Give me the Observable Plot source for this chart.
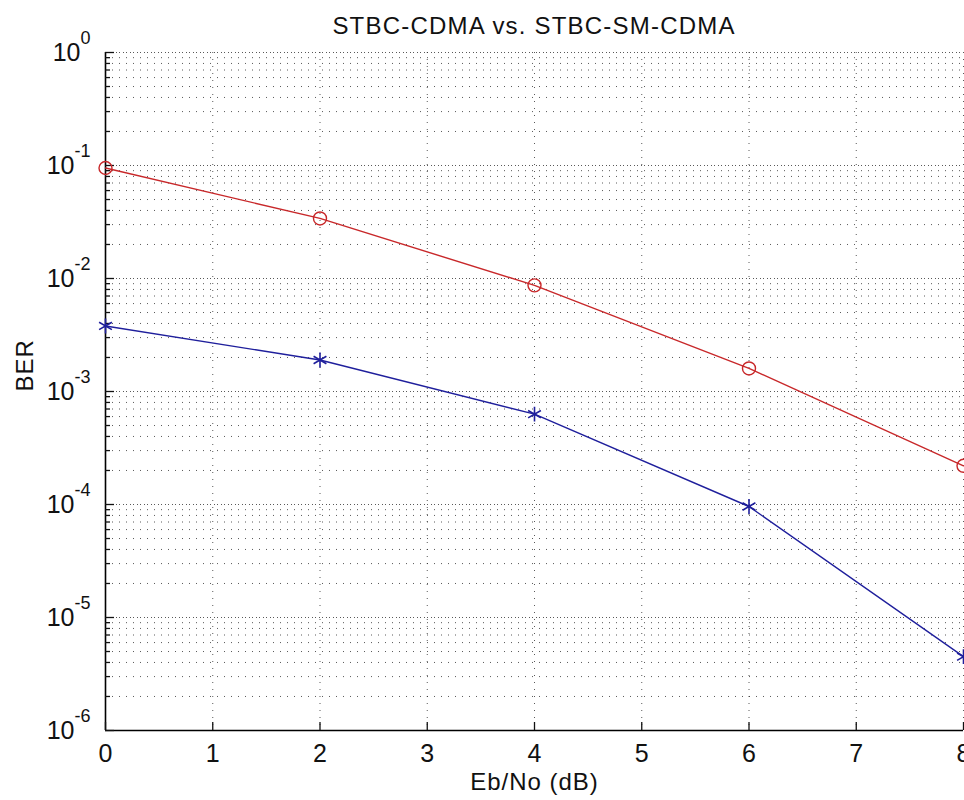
<!DOCTYPE html>
<html><head><meta charset="utf-8">
<script src="https://cdn.jsdelivr.net/npm/d3@7"></script>
<script src="https://cdn.jsdelivr.net/npm/@observablehq/plot@0.6"></script>
<style>
body{margin:0;background:#fff;font-family:"Liberation Sans",Arial,sans-serif;}
#wrap{position:relative;width:964px;height:800px;overflow:hidden;background:#fff}
#title{position:absolute;left:105px;width:858px;top:13px;text-align:center;font-size:24px;letter-spacing:1.2px;color:#111;line-height:26px}
#chart{position:absolute;top:42px;left:0}
#chart svg{overflow:visible}
</style></head><body>
<div id="wrap"><div id="title">STBC-CDMA vs. STBC-SM-CDMA</div><div id="chart"></div></div>
<script>
// Data
const ebNo = [0, 2, 4, 6, 8];
const berStbcCdma = [0.095, 0.034, 0.0087, 0.0016, 0.00022];
const berStbcSmCdma = [0.0038, 0.0019, 0.00063, 0.000096, 0.0000045];
const xTicks = [0, 1, 2, 3, 4, 5, 6, 7, 8];
const yExponents = [-6, -5, -4, -3, -2, -1, 0];
const minorMultipliers = [2, 3, 4, 5, 6, 7, 8, 9];

const yMajor = yExponents.map(e => Math.pow(10, e));
const yMinor = yExponents.slice(0, -1).flatMap(e => minorMultipliers.map(m => m * Math.pow(10, e)));
const red = ebNo.map((x, i) => ({x, y: berStbcCdma[i]}));
const blue = ebNo.map((x, i) => ({x, y: berStbcSmCdma[i]}));

const gridStyle = {stroke: "#222", strokeOpacity: 0.75, strokeDasharray: "1,6", strokeWidth: 1};

const chart = Plot.plot({
  width: 964, height: 758,
  marginLeft: 105, marginRight: 1, marginTop: 10, marginBottom: 70,
  style: {fontFamily: "'Liberation Sans', Arial, sans-serif", fontSize: "25px", color: "#111", background: "transparent", overflow: "visible"},
  x: {domain: [0, 8], label: null},
  y: {type: "log", domain: [1e-6, 1], label: null},
  marks: [
    Plot.gridY(yMinor, gridStyle),
    Plot.gridY(yMajor, {...gridStyle, strokeDashoffset: 3}),
    Plot.gridY(yMajor, gridStyle),
    Plot.gridX(xTicks, gridStyle),
    Plot.ruleX([0], {stroke: "#000", strokeWidth: 1.6}),
    Plot.ruleY([1e-6], {stroke: "#000", strokeWidth: 1.6}),
    Plot.axisX(xTicks, {tickSize: -8, tickPadding: 22, tickFormat: d => String(d), label: null, strokeWidth: 1.3}),
    Plot.axisY(yMinor, {tickSize: -5, tickFormat: () => "", label: null, strokeWidth: 1.3}),
    Plot.axisY(yMajor, {tickSize: -9, tickPadding: 24, tickFormat: d => "10^" + Math.round(Math.log10(d)), label: null, strokeWidth: 1.3}),
    Plot.line(red, {x: "x", y: "y", stroke: "#c8282a", strokeWidth: 1.4}),
    Plot.dot(red, {x: "x", y: "y", r: 6.5, stroke: "#c8282a", fill: "none", strokeWidth: 1.4}),
    Plot.line(blue, {x: "x", y: "y", stroke: "#1f1f9c", strokeWidth: 1.4}),
    Plot.dot(blue, {x: "x", y: "y", r: 7, symbol: "asterisk", stroke: "#1f1f9c", strokeWidth: 1.6}),
    Plot.text(["BER"], {frameAnchor: "left", lineAnchor: "middle", rotate: -90, dx: -80, fontSize: 24, fill: "#111"}),
    Plot.text(["Eb/No (dB)"], {frameAnchor: "bottom", lineAnchor: "middle", dy: 52, fontSize: 24, fill: "#111"})
  ]
});

const svgNS = "http://www.w3.org/2000/svg";
chart.querySelectorAll("text").forEach(t => {
  const s = t.textContent;
  if (s.startsWith("10^")) {
    const exp = s.slice(3);
    t.textContent = "10";
    const ts = document.createElementNS(svgNS, "tspan");
    ts.setAttribute("dy", "-17");
    ts.setAttribute("font-size", "18");
    ts.textContent = exp;
    t.appendChild(ts);
  }
});
chart.querySelectorAll("text").forEach(t => {
  const s = t.textContent;
  if (s === "Eb/No (dB)" || s === "BER") t.setAttribute("letter-spacing", "1");
});
document.getElementById("chart").appendChild(chart);
</script>
</body></html>
